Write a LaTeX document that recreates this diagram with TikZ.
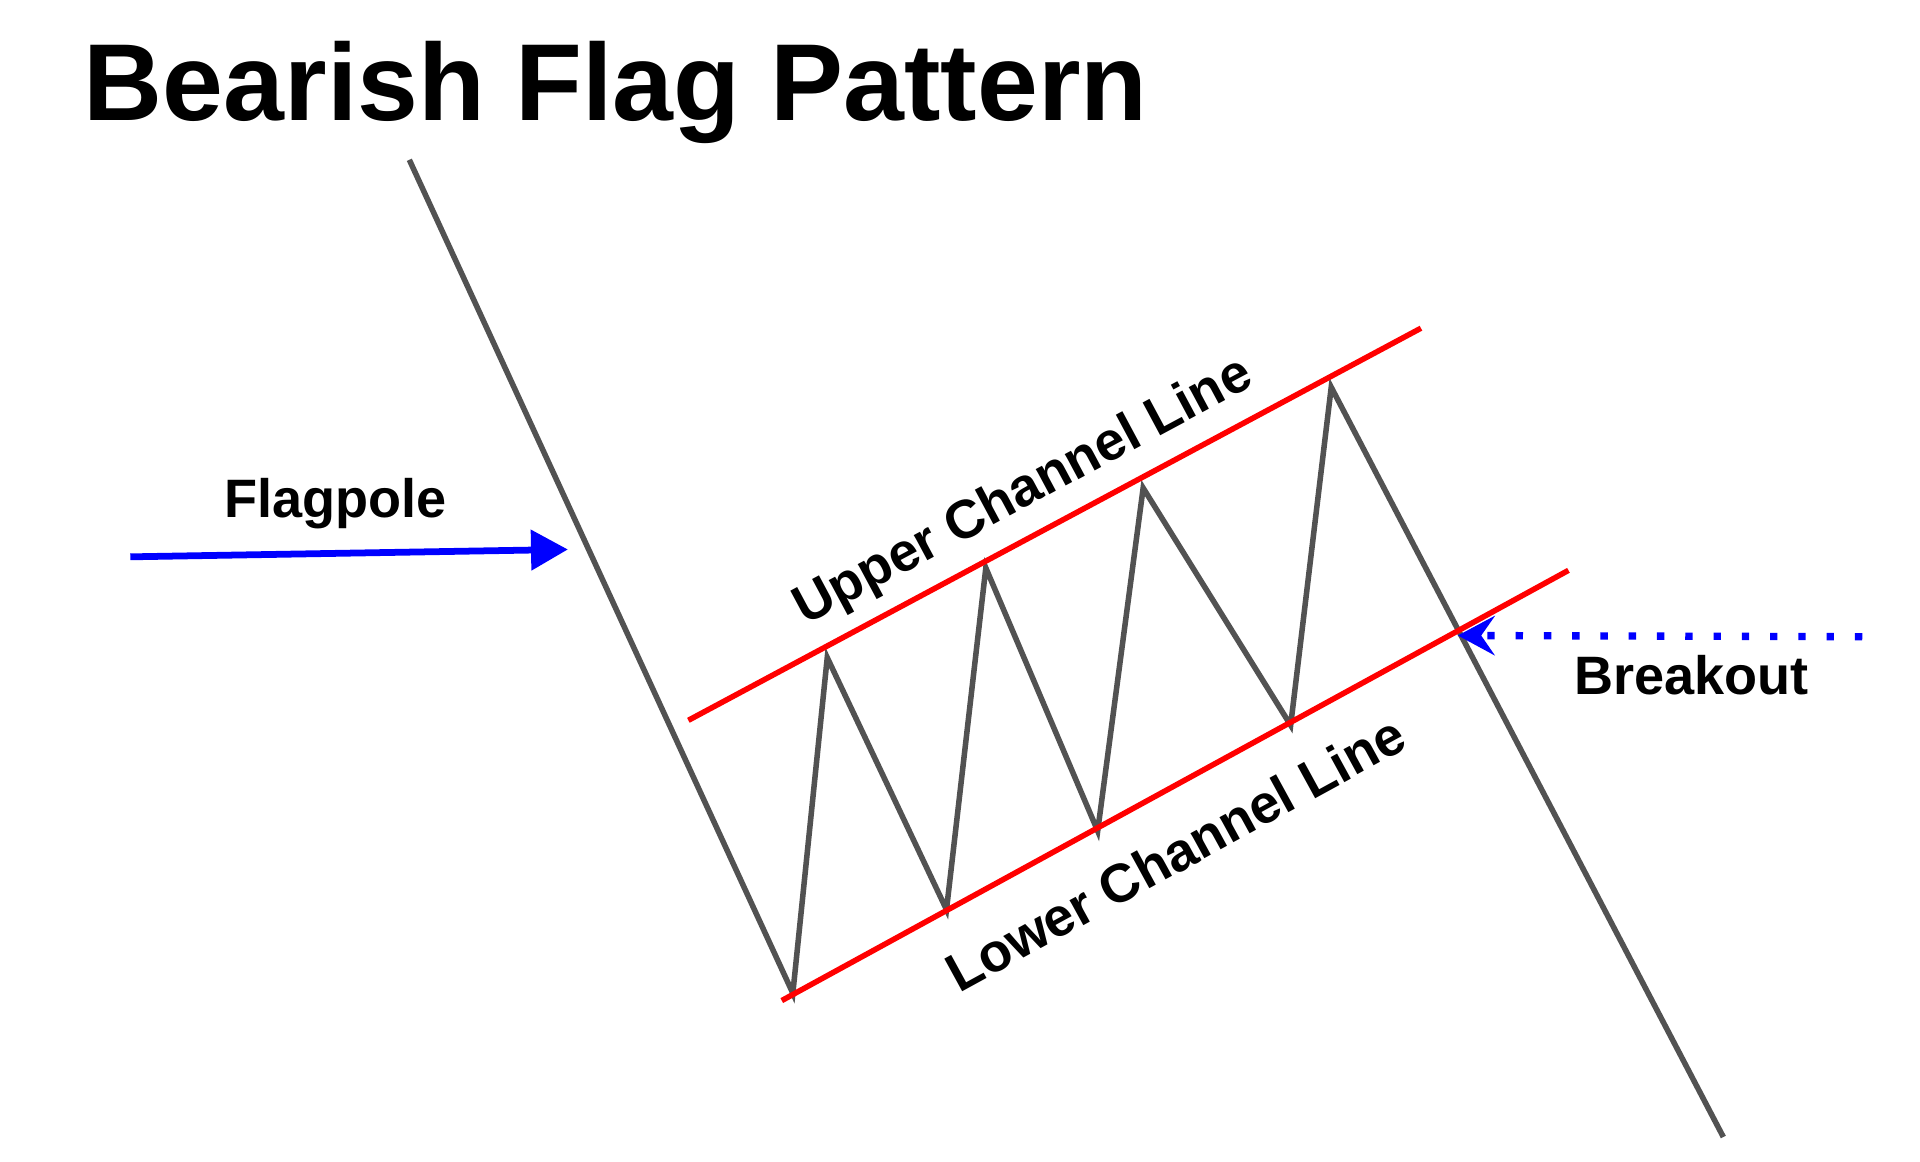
\documentclass[tikz,border=0pt]{standalone}
\usepackage{fontspec}
\setmainfont{Liberation Sans}
\usetikzlibrary{arrows.meta}
\begin{document}
\begin{tikzpicture}[x=1pt,y=-1pt,
  price/.style={draw=black!68,line width=4.5pt,line join=miter},
  chan/.style={draw=red,line width=4.5pt},
  lbl/.style={font=\bfseries\fontsize{44}{46}\selectfont,inner sep=0pt}]
\useasboundingbox[fill=white] (0,0) rectangle (1562,945);
\node[font=\bfseries\fontsize{89}{94}\selectfont,anchor=west,inner sep=0pt] (title) at (68,75) {Bearish Flag Pattern};
\coordinate (p0) at (333,130);
\coordinate (p1) at (645,808);
\coordinate (p2) at (673,535);
\coordinate (p3) at (770,740);
\coordinate (p4) at (802,462);
\coordinate (p5) at (893,676);
\coordinate (p6) at (930,397);
\coordinate (p7) at (1050,590);
\coordinate (p8) at (1083,315);
\coordinate (p9) at (1402,925);
\draw[price] (p0)--(p1)--(p2)--(p3)--(p4)--(p5)--(p6)--(p7)--(p8)--(p9);
\coordinate (u1) at (560,586); \coordinate (u2) at (1156,267);
\coordinate (l1) at (636,814); \coordinate (l2) at (1276,464);
\draw[chan] (u1)--(u2);
\draw[chan] (l1)--(l2);
\node[lbl,rotate=28.2] (upper) at (833,401) {Upper Channel Line};
\node[lbl,rotate=28.7] (lower) at (956,694) {Lower Channel Line};
\coordinate (fa) at (106,453); \coordinate (fb) at (462,447);
\draw[blue,line width=5.5pt,-{Triangle[length=30pt,width=32pt]}] (fa)--(fb);
\node[lbl] (flag) at (273,410) {Flagpole};
\coordinate (ba) at (1515,518); \coordinate (bb) at (1186,517);
\draw[blue,line width=6pt,dash pattern=on 6pt off 17pt,-{Stealth[length=30pt,width=32pt,inset=11pt]}] (ba)--(bb);
\node[lbl] (brk) at (1376,549) {Breakout};
\end{tikzpicture}
\end{document}
